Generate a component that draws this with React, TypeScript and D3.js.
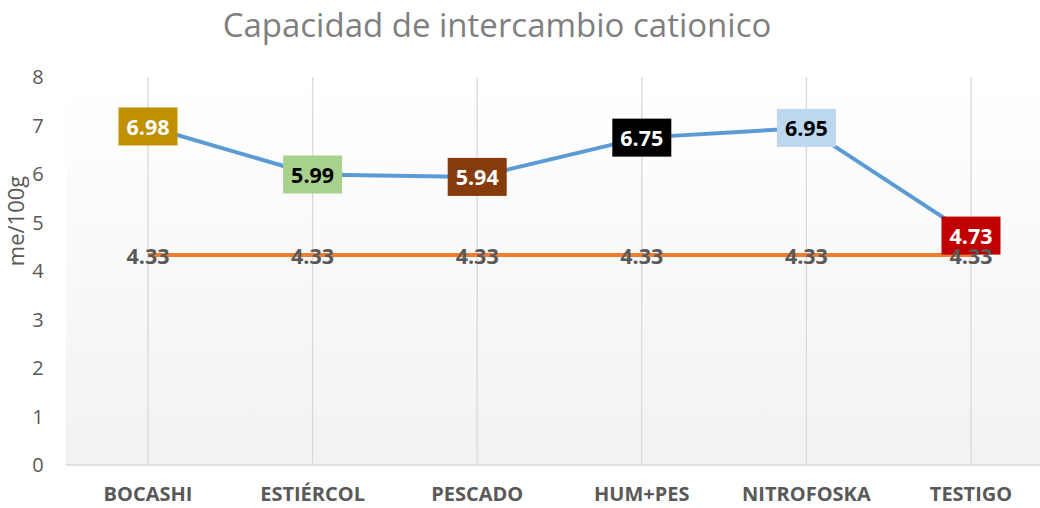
import React from "react";
import * as d3 from "d3";

const categories = ["BOCASHI", "ESTIÉRCOL", "PESCADO", "HUM+PES", "NITROFOSKA", "TESTIGO"];
const seriesMain = [6.98, 5.99, 5.94, 6.75, 6.95, 4.73];
const seriesTestigo = [4.33, 4.33, 4.33, 4.33, 4.33, 4.33];
const labelFills = ["#BF9000", "#A9D18E", "#843C0C", "#000000", "#BDD7EE", "#C00000"];
const labelTexts = ["#ffffff", "#000000", "#ffffff", "#ffffff", "#000000", "#ffffff"];
const yTicks = [0, 1, 2, 3, 4, 5, 6, 7, 8];

const W = 1040;
const H = 508;
const font = "'Open Sans', 'Liberation Sans', sans-serif";

const App: React.FC = () => {
  const x = d3.scaleBand<string>().domain(categories).range([65.7, 1053.3]);
  const cx = (c: string) => x(c)! + x.bandwidth() / 2;
  const y = d3.scaleLinear().domain([0, 8]).range([465, 77]);

  const line = d3
    .line<number>()
    .x((_, i) => cx(categories[i]))
    .y(d => y(d));

  return (
    <svg width={W} height={H} style={{ position: "absolute", left: 0, top: 0, background: "#fff" }}>
      <defs>
        <linearGradient id="bg" x1="0" y1="0" x2="0" y2="1">
          <stop offset="0" stopColor="#ffffff" />
          <stop offset="1" stopColor="#f2f2f2" />
        </linearGradient>
      </defs>
      <rect x={65.7} y={y(8)} width={W - 65.7} height={y(0) - y(8)} fill="url(#bg)" />

      <text x={497} y={37} textAnchor="middle" fontFamily={font} fontSize={33} fill="#7f7f7f">
        Capacidad de intercambio cationico
      </text>

      {categories.map(c => (
        <line key={c} x1={cx(c)} x2={cx(c)} y1={y(8)} y2={y(0)} stroke="#d9d9d9" strokeWidth={1.3} />
      ))}
      <line x1={65.7} x2={W} y1={y(0)} y2={y(0)} stroke="#d9d9d9" strokeWidth={1.3} />

      {yTicks.map(t => (
        <text key={t} x={38} y={y(t)} dy="0.35em" textAnchor="middle" fontFamily={font} fontSize={20} fill="#595959">
          {t}
        </text>
      ))}
      <text
        transform={`translate(24,${221}) rotate(-90)`}
        textAnchor="middle"
        fontFamily={font}
        fontSize={22}
        fill="#595959"
      >
        me/100g
      </text>

      {categories.map(c => (
        <text key={c} x={cx(c)} y={501} textAnchor="middle" fontFamily={font} fontSize={20} fontWeight="bold" fill="#595959">
          {c}
        </text>
      ))}

      <path d={line(seriesTestigo)!} fill="none" stroke="#ED7D31" strokeWidth={4} />
      <path d={line(seriesMain)!} fill="none" stroke="#5B9BD5" strokeWidth={4} strokeLinejoin="round" />

      {seriesMain.map((v, i) => (
        <g key={i} transform={`translate(${cx(categories[i])},${y(v)})`}>
          <rect x={-29.5} y={-19} width={59} height={38} fill={labelFills[i]} />
          <text y={1} dy="0.35em" textAnchor="middle" fontFamily={font} fontSize={21.5} fontWeight="bold" fill={labelTexts[i]}>
            {v.toFixed(2)}
          </text>
        </g>
      ))}

      {seriesTestigo.map((v, i) => (
        <text
          key={i}
          x={cx(categories[i])}
          y={y(v) + 1}
          dy="0.35em"
          textAnchor="middle"
          fontFamily={font}
          fontSize={21.5}
          fontWeight="bold"
          fill="#595959"
        >
          {v.toFixed(2)}
        </text>
      ))}
    </svg>
  );
};

export default App;
